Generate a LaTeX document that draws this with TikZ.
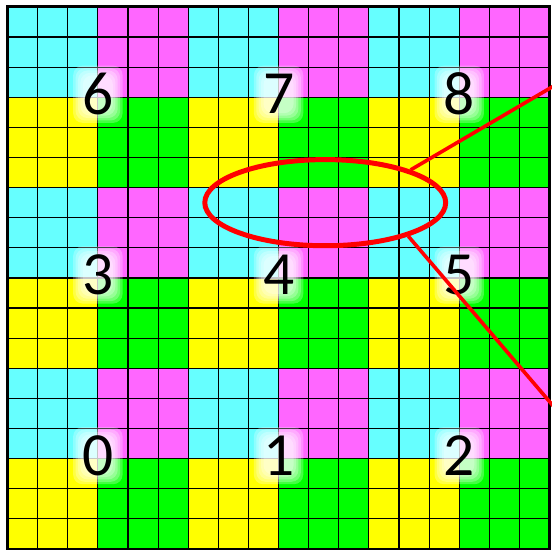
\documentclass[tikz,border=0pt]{standalone}
\usepackage{fontspec}
\setmainfont{Carlito}
\usepackage{tikz}
\usetikzlibrary{shapes.geometric}
\usepackage{xcolor}
\definecolor{tilecyan}{RGB}{102,255,255}
\definecolor{tilemagenta}{RGB}{255,102,255}
\definecolor{tileyellow}{RGB}{255,255,0}
\definecolor{tilegreen}{RGB}{0,255,0}
\newcommand{\blocknum}{\fontsize{58}{64}\selectfont}

\begin{document}
\begin{tikzpicture}[gridline/.style={black,line width=1.1pt},
  glow/.style={fill=white,opacity=0.26,rounded corners=9pt},
  ring/.style={ellipse,draw=red,line width=4.7pt,inner sep=0pt},
  link/.style={red,line width=3.4pt}]
\useasboundingbox (-0.25,-0.1) rectangle (18.07,18.23);
\foreach \i in {0,1,2}{
  \foreach \j in {0,1,2}{
    \fill[tileyellow] (6*\i,6*\j) rectangle ++(3,3);
    \fill[tilegreen] (6*\i+3,6*\j) rectangle ++(3,3);
    \fill[tilecyan] (6*\i,6*\j+3) rectangle ++(3,3);
    \fill[tilemagenta] (6*\i+3,6*\j+3) rectangle ++(3,3);
  }
}
\draw[gridline] (0,0) grid (18,18);
\draw[line width=2.8pt] (0,0) rectangle (18,18);
% block numbers
\foreach \i in {0,1,2}{
  \foreach \j in {0,1,2}{
    \pgfmathtruncatemacro{\n}{3*\j+\i}
    \foreach \w/\h in {0.82/0.95,0.74/0.87,0.66/0.79,0.58/0.71,0.5/0.63}
      \fill[glow] (6*\i+3-\w,6*\j+3.1-\h) rectangle (6*\i+3+\w,6*\j+3.1+\h);
    \node (num\n) at (6*\i+3,6*\j+3.1) {\blocknum\n};
  }
}
% zoomed region
\node[ring,minimum width=8cm,minimum height=2.86cm] (zoomring) at (10.55,11.5) {};
\coordinate (insettop) at (18.3,15.47);
\coordinate (insetbottom) at (18.3,4.54);
\draw[link] (zoomring.21) -- (insettop);
\draw[link] (zoomring.-22) -- (insetbottom);
\end{tikzpicture}
\end{document}
